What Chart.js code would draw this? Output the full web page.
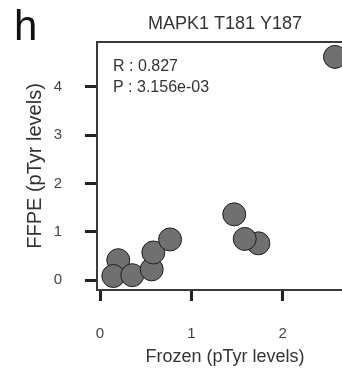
<!DOCTYPE html>
<html>
<head>
<meta charset="utf-8">
<script src="https://cdn.jsdelivr.net/npm/chart.js@4/dist/chart.umd.min.js"></script>
<style>
  html, body { margin: 0; padding: 0; background: #fff; overflow: hidden; width: 342px; height: 371px; }
  #wrap { position: relative; width: 342px; height: 371px; overflow: hidden; }
  #c { position: absolute; left: 0; top: 0; }
  #panel { position: absolute; left: 14px; top: 5px; font: 42px "Liberation Sans", Arial, sans-serif; line-height: 42px; color: #111; }
</style>
</head>
<body>
<div id="wrap">
  <canvas id="c" width="356" height="371"></canvas>
  <div id="panel">h</div>
</div>
<script>
const chartTitle = "MAPK1 T181 Y187";
const xAxisTitle = "Frozen (pTyr levels)";
const yAxisTitle = "FFPE (pTyr levels)";
const statLines = ["R : 0.827", "P : 3.156e-03"];
const frozen = [0.200, 0.146, 0.354, 0.566, 0.584, 0.767, 1.470, 1.734, 1.585, 2.574];
const ffpe   = [0.410, 0.083, 0.100, 0.220, 0.570, 0.840, 1.360, 0.760, 0.850, 4.620];
const xTicks = [0, 1, 2];
const yTicks = [0, 1, 2, 3, 4];

const FONT = '"Liberation Sans", Arial, sans-serif';
const points = frozen.map((x, i) => ({ x: x, y: ffpe[i] }));

const boxPlugin = {
  id: 'boxPlugin',
  afterDatasetsDraw(chart) {
    const { ctx, chartArea: a } = chart;
    ctx.save();
    ctx.strokeStyle = '#3a3a3a';
    ctx.lineWidth = 2;
    ctx.beginPath();
    ctx.moveTo(a.left, a.top);
    ctx.lineTo(a.right, a.top);
    ctx.lineTo(a.right, a.bottom);
    ctx.stroke();
    ctx.fillStyle = '#333';
    ctx.font = '16px ' + FONT;
    ctx.textBaseline = 'middle';
    ctx.textAlign = 'left';
    statLines.forEach((t, i) => ctx.fillText(t, a.left + 16, a.top + 25 + i * 21));
    ctx.restore();
  }
};

new Chart(document.getElementById('c'), {
  type: 'scatter',
  data: {
    datasets: [{
      data: points,
      backgroundColor: '#707070',
      borderColor: '#1e1e1e',
      borderWidth: 1,
      pointRadius: 11.5,
      pointHoverRadius: 11.5
    }]
  },
  options: {
    responsive: false,
    animation: false,
    clip: false,
    layout: { autoPadding: false, padding: { left: 0, right: 3, top: 0, bottom: 0 } },
    plugins: {
      legend: { display: false },
      tooltip: { enabled: false },
      title: {
        display: true,
        text: chartTitle,
        fullSize: false,
        color: '#333',
        font: { family: FONT, size: 18, weight: 'normal' },
        padding: { top: 13, bottom: 7.4 }
      }
    },
    scales: {
      x: {
        type: 'linear',
        min: -0.033,
        max: 2.771,
        afterFit(s) { s.height = 81; s.paddingLeft = 0; s.paddingRight = 0; },
        afterBuildTicks(s) { s.ticks = xTicks.map(v => ({ value: v })); },
        grid: { drawOnChartArea: false, drawTicks: true, tickLength: 11, tickWidth: 3, tickColor: '#222' },
        border: { display: true, color: '#3a3a3a', width: 2 },
        ticks: { color: '#444', font: { family: FONT, size: 15 }, padding: 24 },
        title: { display: true, text: xAxisTitle, color: '#333', font: { family: FONT, size: 18 }, padding: { top: 0, bottom: 3.5 } }
      },
      y: {
        type: 'linear',
        min: -0.207,
        max: 4.928,
        afterFit(s) { s.width = 97; s.paddingTop = 0; s.paddingBottom = 0; },
        afterBuildTicks(s) { s.ticks = yTicks.map(v => ({ value: v })); },
        grid: { drawOnChartArea: false, drawTicks: true, tickLength: 12, tickWidth: 3, tickColor: '#222' },
        border: { display: true, color: '#3a3a3a', width: 2 },
        ticks: { color: '#444', font: { family: FONT, size: 15 }, padding: 23 },
        title: { display: true, text: yAxisTitle, color: '#333', font: { family: FONT, size: 20 }, padding: { top: 23, bottom: 0 } }
      }
    }
  },
  plugins: [boxPlugin]
});
</script>
</body>
</html>
